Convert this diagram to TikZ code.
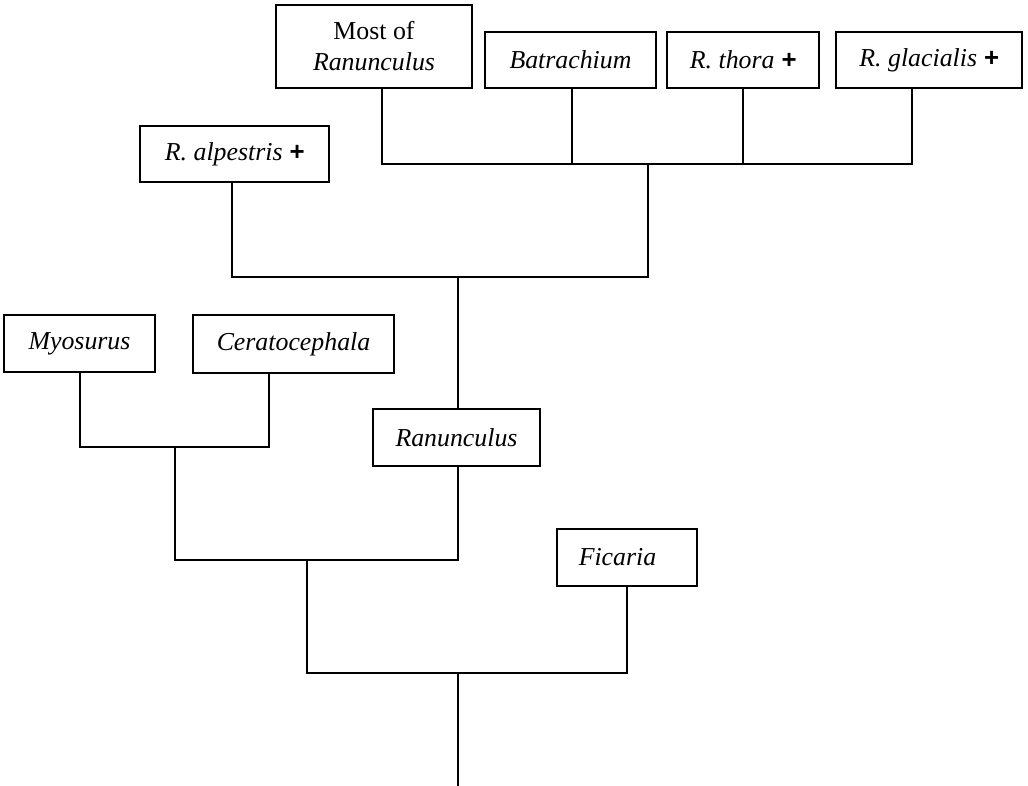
\documentclass[tikz,border=0pt]{standalone}
\usepackage{fontspec}
\setmainfont{Liberation Serif}
\newfontfamily\plusfont{Liberation Sans}
\usetikzlibrary{positioning,calc}
\newcommand{\extinct}{ {\plusfont\bfseries +}}

\begin{document}
\begin{tikzpicture}[x=0.02cm, y=-0.02cm, line width=1.1pt,
    taxon/.style={draw, inner sep=0pt, minimum height=1.12cm, align=center,
      font=\fontsize{14.7}{17.6}\selectfont\itshape}]
  \useasboundingbox (0,0) rectangle (1028,786);

  % Top row of clades
  \node[taxon, minimum width=3.92cm, minimum height=1.66cm] (most) at (374,46.5) {\upshape Most of\\Ranunculus};
  \node[taxon, minimum width=3.42cm] (batr) at (570.5,60) {Batrachium};
  \node[taxon, minimum width=3.04cm] (thora) at (743,60) {R. thora\extinct};
  \node[taxon, minimum width=3.72cm] (glac) at (929,60) {R. glacialis\extinct};
  \node[taxon, minimum width=3.78cm] (alp) at (234.5,154) {R. alpestris\extinct};

  % Lower clades
  \node[taxon, minimum width=3.02cm, minimum height=1.14cm] (myo) at (79.5,343.5) {Myosurus};
  \node[taxon, minimum width=4.02cm, minimum height=1.16cm] (cera) at (293.5,344) {Ceratocephala};
  \node[taxon, minimum width=3.34cm, minimum height=1.14cm] (ranun) at (456.5,437.5) {Ranunculus};
  \node[taxon, minimum width=2.8cm, minimum height=1.14cm] (fic) at (627,557.5) {Ficaria\hspace{0.38cm}};

  % Forks
  \coordinate (topfork) at (648,164);
  \coordinate (alpfork) at (458,277);
  \coordinate (myofork) at (175,447);
  \coordinate (lowfork) at (307,560);
  \coordinate (basefork) at (458,673);
  \coordinate (root) at (458,786);

  % Branches
  \draw ([xshift=0.16cm]most.south) |- (topfork);
  \draw ([xshift=0.03cm]batr.south) |- (topfork);
  \draw (thora.south) |- (topfork);
  \draw ([xshift=-0.34cm]glac.south) |- (topfork);
  \draw (topfork) |- (alpfork);
  \draw ([xshift=-0.05cm]alp.south) |- (alpfork);
  \draw (alpfork) -- (alpfork |- ranun.north);
  \draw ([xshift=0.01cm]myo.south) |- (myofork);
  \draw ([xshift=-0.49cm]cera.south) |- (myofork);
  \draw (myofork) |- (lowfork);
  \draw ([xshift=0.03cm]ranun.south) |- (lowfork);
  \draw (lowfork) |- (basefork);
  \draw (fic.south) |- (basefork);
  \draw (basefork) -- (root);
\end{tikzpicture}
\end{document}
